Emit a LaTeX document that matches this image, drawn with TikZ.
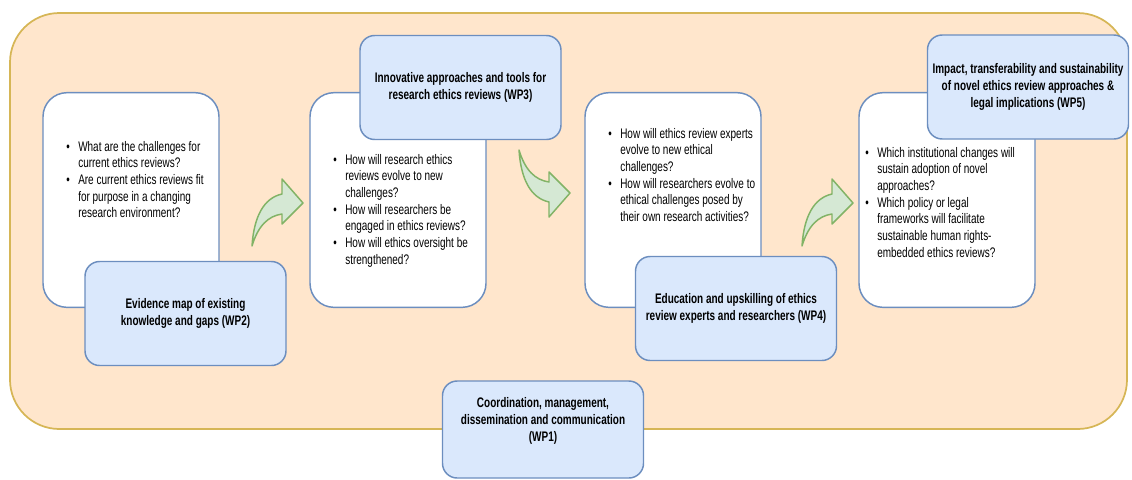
\documentclass[tikz,border=0pt]{standalone}
\usepackage{fontspec}
\setmainfont{Liberation Sans}[FakeStretch=0.72]

\definecolor{framefill}{HTML}{FFE6CC}
\definecolor{framedraw}{HTML}{D6B656}
\definecolor{boxdraw}{HTML}{6C8EBF}
\definecolor{boxfill}{HTML}{DAE8FC}
\definecolor{arrowfill}{HTML}{D5E8D4}
\definecolor{arrowdraw}{HTML}{82B366}

% bullet line and continuation line
\newcommand{\itm}[1]{\makebox[9pt][l]{\textbullet}#1}
\newcommand{\cnt}[1]{\hspace*{9pt}#1}

\begin{document}
\begin{tikzpicture}[x=0.75pt,y=-0.75pt,
    frame/.style={draw=framedraw,fill=framefill,line width=1.3pt,
      rounded corners=37pt,minimum width=837.75pt,minimum height=312pt},
    qbox/.style={draw=boxdraw,fill=white,line width=1.1pt,rounded corners=18pt,
      minimum width=132pt,minimum height=161pt,inner sep=0pt},
    qtext/.style={anchor=north west,inner sep=0pt,align=left,
      font=\fontsize{10.4}{12.5}\selectfont},
    wptext/.style={align=center,inner sep=0pt,
      font=\fontsize{10.4}{12.8}\selectfont\bfseries},
    wpbox/.style={wptext,draw=boxdraw,fill=boxfill,line width=1.1pt,
      rounded corners=11pt,minimum width=150.75pt,minimum height=78pt},
    bent/.pic={
      \draw[draw=arrowdraw,fill=arrowfill,line width=1.1pt,line join=round]
        (0,0) .. controls (2,-30) and (12,-48) .. (30,-52) -- (30,-67)
        -- (51,-43) -- (30,-22) -- (30,-32)
        .. controls (16,-30) and (6,-20) .. (0,0) -- cycle ;
    }]
  \useasboundingbox (0,0) rectangle (1132,479) ;

  % background panel
  \node[frame] (frame) at (568.5,221) {} ;

  % question boxes
  \node[qbox] (q1) at (131,200) {} ;
  \node[qbox] (q2) at (398,200) {} ;
  \node[qbox] (q3) at (673,200) {} ;
  \node[qbox] (q4) at (947,200) {} ;

  \node[qtext] (q1 text) at (66,141) {%
    \itm{What are the challenges for}\\
    \cnt{current ethics reviews?}\\
    \itm{Are current ethics reviews fit}\\
    \cnt{for purpose in a changing}\\
    \cnt{research environment?}} ;
  \node[qtext] (q2 text) at (333,154) {%
    \itm{How will research ethics}\\
    \cnt{reviews evolve to new}\\
    \cnt{challenges?}\\
    \itm{How will researchers be}\\
    \cnt{engaged in ethics reviews?}\\
    \itm{How will ethics oversight be}\\
    \cnt{strengthened?}} ;
  \node[qtext] (q3 text) at (608,128) {%
    \itm{How will ethics review experts}\\
    \cnt{evolve to new ethical}\\
    \cnt{challenges?}\\
    \itm{How will researchers evolve to}\\
    \cnt{ethical challenges posed by}\\
    \cnt{their own research activities?}} ;
  \node[qtext] (q4 text) at (865,147) {%
    \itm{Which institutional changes will}\\
    \cnt{sustain adoption of novel}\\
    \cnt{approaches?}\\
    \itm{Which policy or legal}\\
    \cnt{frameworks will facilitate}\\
    \cnt{sustainable human rights-}\\
    \cnt{embedded ethics reviews?}} ;

  % work packages
  \node[wpbox] (wp2) at (185.5,313.5)
    {Evidence map of existing\\knowledge and gaps (WP2)} ;
  \node[wpbox] (wp3) at (460.5,87.5)
    {Innovative approaches and tools for\\research ethics reviews (WP3)} ;
  \node[wpbox] (wp4) at (736,308.5)
    {Education and upskilling of ethics\\review experts and researchers (WP4)} ;
  \node[wpbox] (wp5) at (1028,87)
    {Impact, transferability and sustainability\\of novel ethics review approaches \&\\legal implications (WP5)} ;

  % bent arrows
  \pic (arr1) at (252,246) {bent} ;
  \pic[yscale=-1] (arr2) at (519,150) {bent} ;
  \pic (arr3) at (802,246) {bent} ;

  % coordination
  \node[wpbox,minimum height=72.75pt] (wp1) at (543,429.5) {} ;
  \node[wptext] (wp1 text) at (543,421)
    {Coordination, management,\\dissemination and communication\\(WP1)} ;
\end{tikzpicture}
\end{document}
